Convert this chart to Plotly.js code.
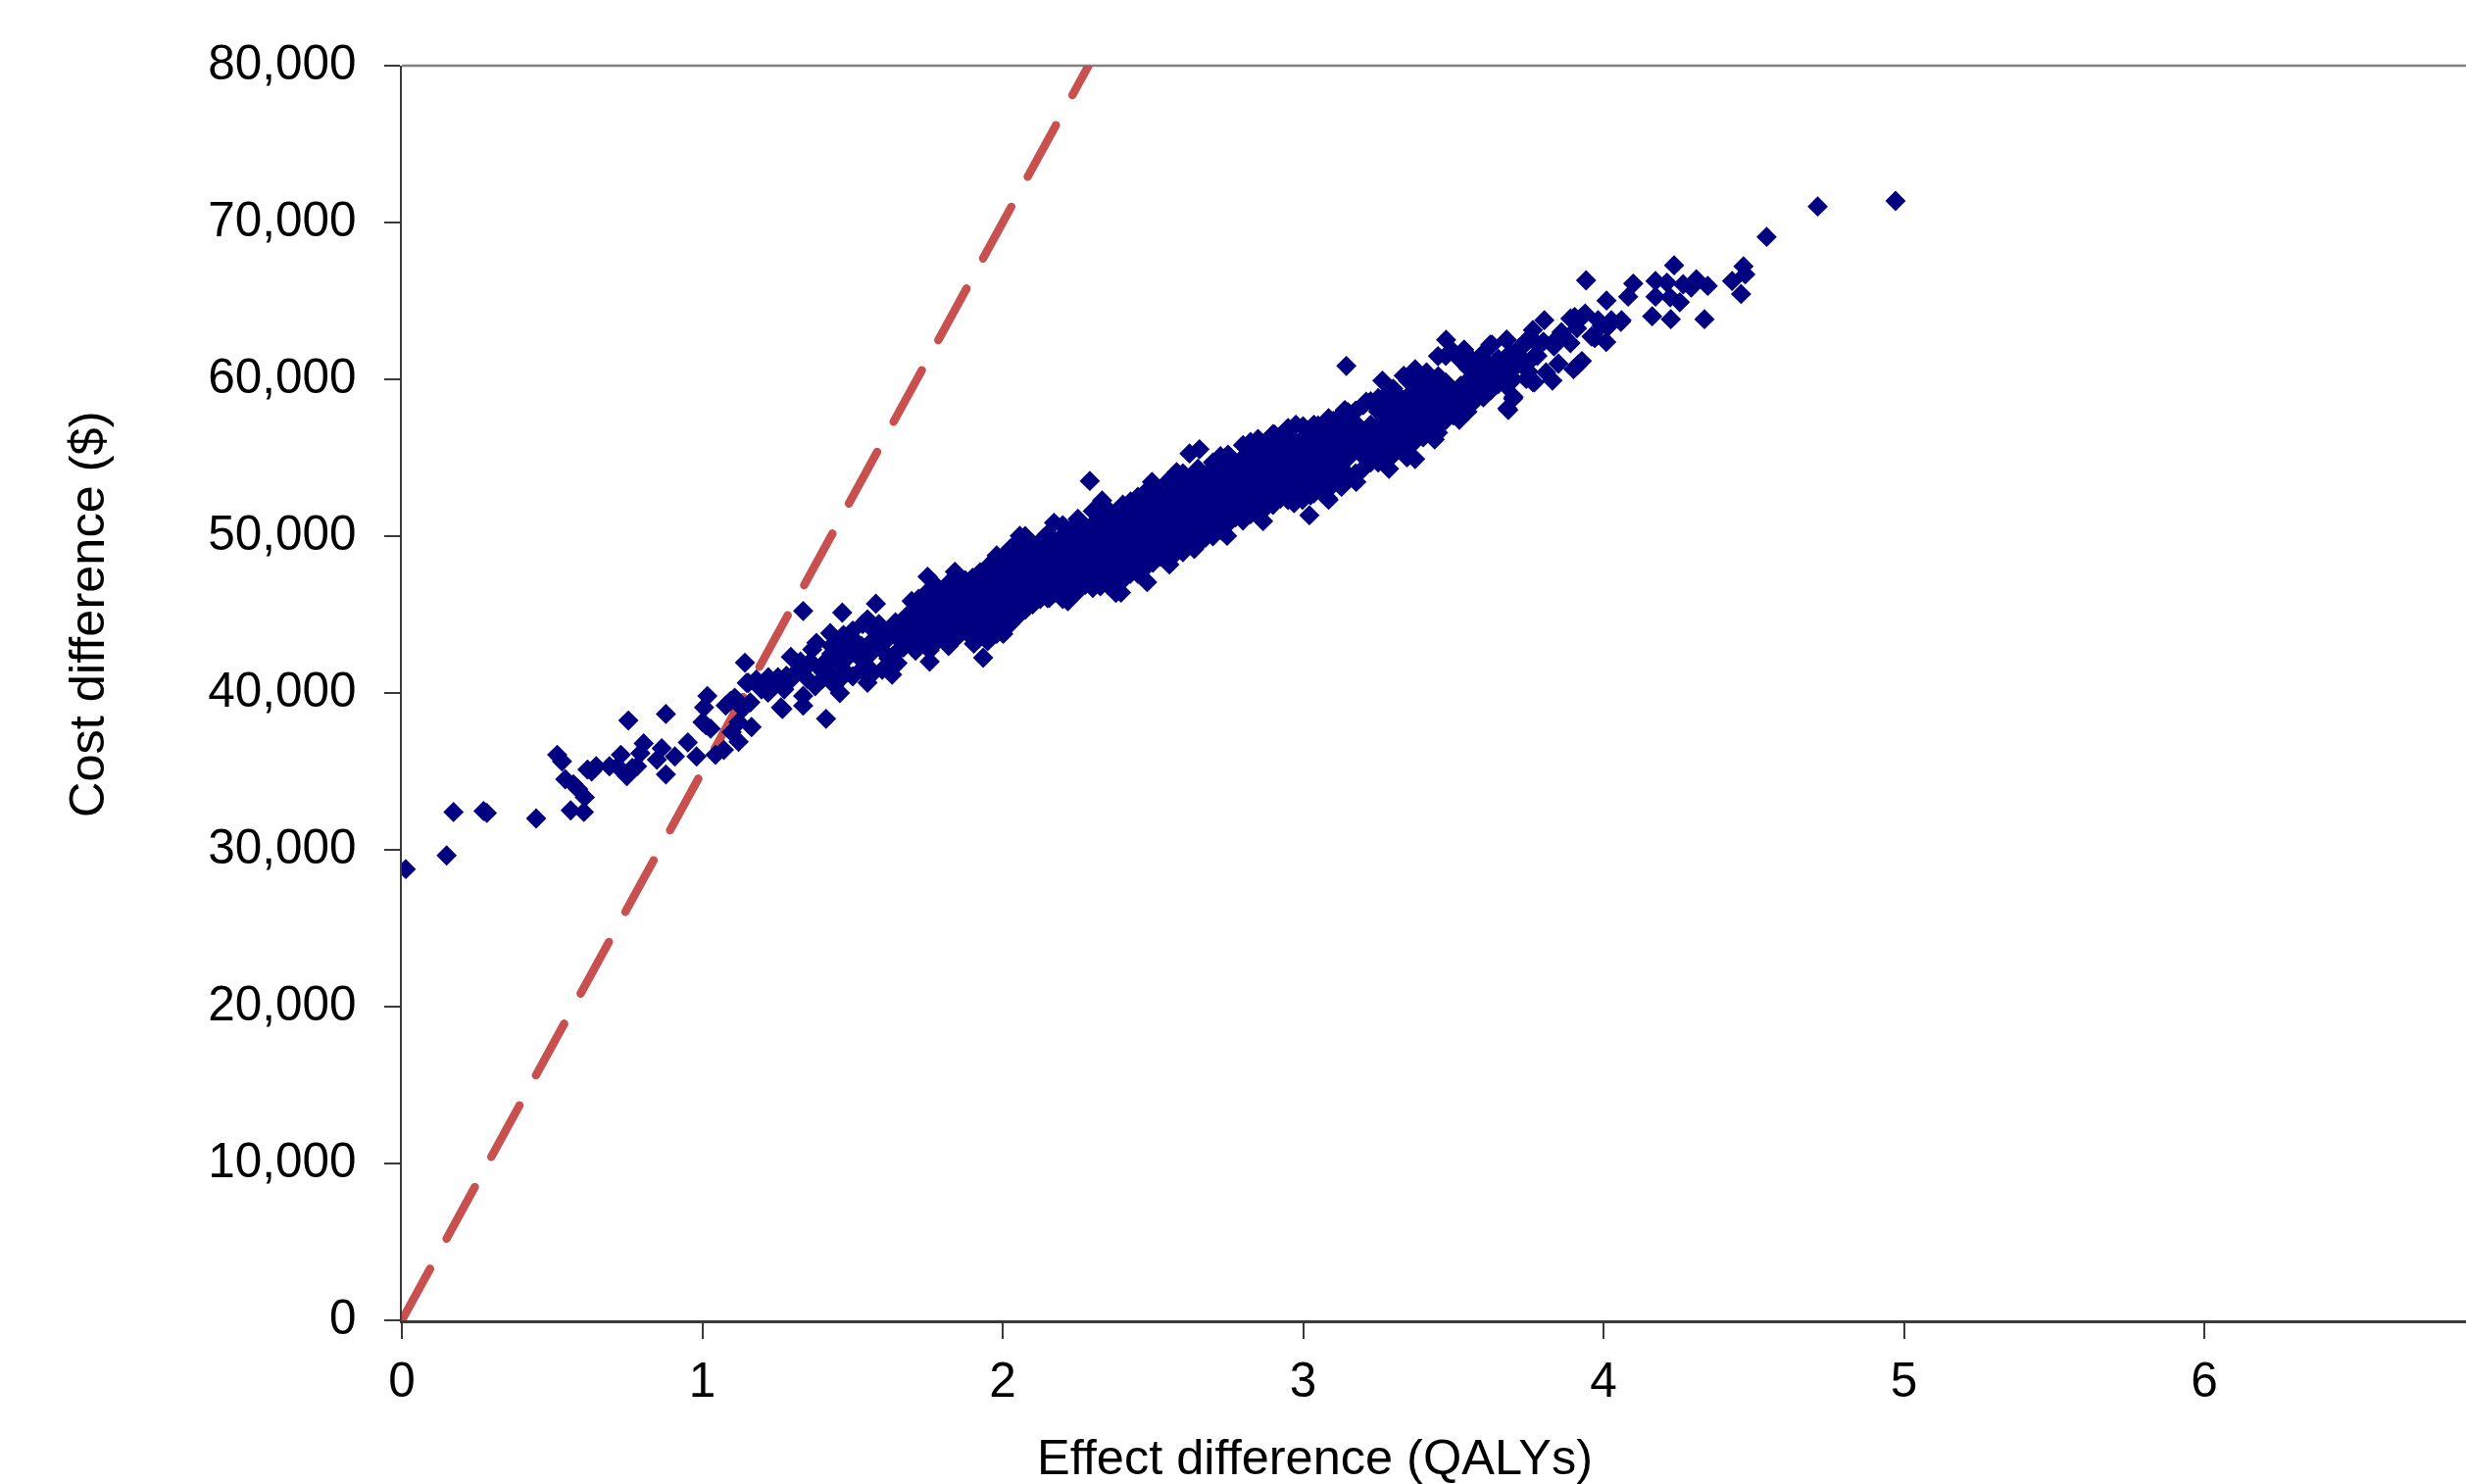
<!DOCTYPE html>
<html>
<head>
<meta charset="utf-8">
<script src="https://cdn.plot.ly/plotly-3.0.1.min.js"></script>
<style>html,body{margin:0;padding:0;background:#fff;overflow:hidden}</style>
</head>
<body>
<div id="chart" style="width:2516px;height:1514px"></div>
<script>
// Threshold line (willingness to pay about $35,000 per QALY)
const thresholdX = [0, 2.2857];
const thresholdY = [0, 80000];

// Isolated and edge points read one by one, [effect, cost]
const lowTail = [
[0.013,28770],[0.149,29640],[0.172,32410],[0.272,32475],[0.283,32350],[0.447,32000],[0.562,32516],[0.606,32412],
[0.517,36057],[0.533,35640],[0.544,34500],[0.571,34182],[0.587,33870],[0.609,33350],[0.618,35120],[0.632,35000],
[0.647,35328],[0.691,35328],[0.729,36057],[0.718,35328],[0.749,34700],[0.754,38245],[0.879,38660],[0.805,36786],
[0.794,36160],[0.865,36475],[0.849,35744],[0.909,35953],[0.879,34807],[0.952,36849],[0.981,35953],[0.783,35328],
[0.767,35224]
];
const nearCross = [
[1.044,36057],[1.072,36370],[1.121,36890],[1.017,39806],[1.006,39078],[1.001,38140],[1.028,37724],[1.012,37950],
[1.094,39494],[1.078,39200],[1.142,41931],[1.164,37828],[1.121,38140],[1.098,37500],[1.262,39078],[1.153,40640],
[1.197,40230],[1.241,40640],[1.219,40020],[1.252,41000],[1.108,39700],[1.135,39000],[1.160,39400],[1.336,45230],
[1.466,45126],[1.578,45690],[1.750,47417],[1.841,47730],[1.267,38980],[1.412,38356],[1.757,42000],[1.935,42250],
[1.336,39190],[1.366,42770],[1.295,42300],[1.426,43814],[1.534,44397],[1.458,40000],[1.550,40650],[1.632,41170],
[1.643,42520],[1.697,45860],[2.002,43770],[2.155,46063],[1.980,48770]
];
const lowerBand = [
[1.148,40648],[1.180,40856],[1.208,40439],[1.246,40856],[1.295,40856],[1.327,42002],[1.338,41481],[1.273,40231],
[1.336,39814],[1.376,40439],[1.425,41272],[1.452,43147],[1.480,42731],[1.458,41897],[1.458,40856],[1.501,41064],
[1.567,43355],[1.599,42731],[1.632,42314],[1.588,44397],[1.643,44501],[1.599,41481],[1.501,43980],[1.675,44397],
[1.708,45022],[1.752,44397],[1.730,43772],[1.757,42731],[1.784,43355],[1.817,43980],[1.850,44814],[1.882,44189],
[1.904,43147],[1.980,43772],[1.520,42300],[1.545,41800],[1.410,42000],[1.390,41600],[1.660,43300],[1.690,43900],
[1.620,43500],[1.560,44200],[1.700,44700],[1.730,45500],
[1.220,41000],[1.280,41100],[1.310,41300],[1.350,40900],[1.360,42000],[1.400,40900],[1.405,41300],[1.430,42500],
[1.440,40500],[1.470,42000],[1.480,41300],[1.500,42700],[1.510,43300],[1.530,41500],[1.530,43000],[1.560,42500],
[1.570,41300],[1.580,43900],[1.600,43200],[1.620,42200],[1.620,44000],[1.650,41900],[1.650,43800],[1.670,42900],
[1.680,44900],[1.700,43400],[1.710,42700],[1.720,44300],[1.740,43200],[1.760,43900],[1.780,44600],[1.800,43700],
[1.820,43000],[1.830,45100],[1.720,46000],[1.780,46800],[1.550,44700],[1.470,43700],[1.430,43000],[1.380,43200]
];
const midEdges = [
[2.290,53520],[2.481,47065],[3.021,51335],[2.747,50022],[3.082,52418],[2.867,50960],[2.622,55270],[2.655,55540],
[2.331,52272],[2.171,50855],[2.057,50022],[1.978,48564],[2.149,46064],[2.217,45856],[2.377,46380],[2.394,46400],
[2.555,48190],[2.600,48980],[2.638,49187],[2.715,54813],[2.752,54600],[2.497,53460],[2.579,54084],[2.426,52210],
[2.252,51064],[2.138,49918],[3.085,52315],[2.998,52315],[3.177,53460],[3.128,53148],[3.175,55700],[3.150,55000]
];
const upperEdges = [
[3.144,60855],[3.476,62522],[3.520,57418],[3.547,57940],[3.438,56169],[3.449,56600],[3.373,54918],[3.346,55022],
[3.286,54293],[3.085,57522],[3.036,57105],[2.976,57105],[2.905,56480],[3.139,58043],[3.210,58564],[3.264,59917],
[3.335,60230],[3.411,60439],[3.536,61896],[3.623,62209],[3.677,62522],[3.690,61688],[3.723,61063],[3.809,60438],
[3.680,58147],[3.701,58876],[3.770,59813],[3.830,59917],[3.732,61273],[3.765,59815],[3.699,58773],[3.683,58044],
[3.750,60500],[3.780,61500],[3.720,62000],[3.850,61000],[3.800,62400],[3.745,62500],[3.860,63000],
[3.558,61272],[3.601,61688],[3.623,60855],[3.688,60439],[3.743,60022],[3.731,62105],[3.776,62313],[3.765,61376],
[3.645,59814],[3.580,59189],[3.482,58147],[3.417,57106],[3.341,55439],[3.242,55022],[3.133,53356],[3.036,52731],
[2.970,52106],[3.373,60647],[3.449,61480],[3.498,61792]
];
const highTail = [
[4.972,71376],[4.713,71022],[4.543,69085],[4.235,67272],[3.942,66314],[4.466,67210],[4.472,66690],[4.428,66273],
[4.458,65440],[4.347,65960],[4.309,66377],[4.265,66064],[4.292,65856],[4.336,63835],[4.224,63835],[4.162,64023],
[4.173,66273],[4.211,66168],[4.173,65273],[4.222,65230],[4.254,64918],[4.099,66106],[4.082,65273],[4.010,65023],
[4.060,63773],[4.026,63773],[3.993,63400],[4.009,62377],[3.971,62627],[3.939,64189],[3.904,63980],[3.912,63252],
[3.890,62313],[3.830,62313],[3.928,61169],[3.900,60648],[3.914,60900],[3.803,63773],[3.765,63148],[3.678,62522],
[3.629,62209],[3.835,62105],[3.960,62730],[4.058,63667],[4.015,63355],[3.982,63771],[3.890,63876],[3.928,63980]
];
// Body of the cloud, estimated column by column: [effect, cost, cost, ...]
const bodyColumns = [
[1.75,44800,45650,46450],[1.80,44150,45000,45850,46600],
[1.85,43600,44400,45250,46000,46850,47500],[1.90,43500,44300,45100,45950,46700,47350],[1.95,43300,44100,44900,45750,46500,47300,48050],
[2.00,44000,44850,45600,46400,47250,48000,48600],[2.05,44900,45700,46450,47300,48100,48900,49650],[2.10,45650,46400,47200,48050,48800,49500],
[2.15,46200,47000,47750,48600,49400,50150],[2.20,46000,46800,47650,48400,49200,50050,50700],[2.25,46500,47300,48100,48950,49700,50500,51100],
[2.30,46700,47550,48300,49100,49900,50750,51600],[2.35,46900,47700,48500,49350,50100,50900,51700],[2.40,47200,48050,48800,49600,50450,51200,52000],
[2.45,47600,48400,49250,50000,50800,51650,52500],[2.50,48300,49100,49900,50750,51500,52300,53150],[2.55,48600,49400,50250,51000,51800,52650,53500],
[2.60,49200,50000,50800,51650,52400,53200,54000],[2.65,49500,50350,51100,51900,52750,53500,54300],[2.70,50000,50800,51600,52450,53200,54000,54700],
[2.75,50800,51650,52400,53200,54050,54800,55200],[2.80,51000,51800,52600,53450,54200,55000,55800],[2.85,51500,52300,53150,53900,54700,55550,56200],
[2.90,52000,52850,53600,54400,55250,56000,56500],[2.95,52300,53100,53900,54750,55500,56300,56900],[3.00,53000,53850,54600,55400,56250,57000],
[3.05,53000,53800,54650,55400,56200,57050],[3.10,53300,54100,54950,55700,56500,57350],[3.15,53900,55500,56300,57150,57900],
[3.20,54300,55100,55950,56700,58350],[3.25,54700,55550,56300,57100,57950,58800],[3.30,55200,56000,56800,57650,58400,59400],
[3.35,55700,56550,57300,58100,58950,59900],[3.40,56300,57100,57950,58700,59500,60200],[3.45,57000,57800,58650,59400,60200],
[3.50,57700,58550,59300],[3.55,58300,59100,59950,60700,61500],[3.60,58850,59600,60400,61250],
[3.65,59700,60550,61300],[3.70,60000,60800,61550]
];
// Second pass between those columns, where the cloud is solid
const bodyInfill = [
[1.775,45300,46100],[1.825,44700,45500,46300,47100],
[1.875,44000,44800,45600,46400,47200],[1.925,43900,44700,45500,46300,47000,47700],[1.975,43800,44500,45300,46100,46900,47700],
[2.025,44400,45200,46000,46800,47600,48400,49200],[2.075,45300,46100,46900,47700,48500,49300,50000],[2.125,46000,46800,47600,48400,49200],
[2.175,46400,47200,48000,48800,49600],[2.225,46400,47200,48000,48800,49600,50400],[2.275,46900,47700,48500,49300,50100],
[2.325,46800,47600,48400,49200,50000,50800,51500],[2.375,47300,48100,48900,49700,50500,51300],[2.425,47600,48400,49200,50000,50800,51600],
[2.475,48000,48800,49600,50400,51200,52000,52800],[2.525,48700,49500,50300,51100,51900,52700],[2.575,48900,49700,50500,51300,52100,52900,53700],
[2.625,49600,50400,51200,52000,52800,53600],[2.675,49900,50700,51500,52300,53100,53900],[2.725,50400,51200,52000,52800,53600,54400,55100],
[2.775,51200,52000,52800,53600,54400],[2.825,51400,52200,53000,53800,54600,55400,56000],[2.875,51800,52600,53400,54200,55000,55800],
[2.925,52400,53200,54000,54800,55600,56400],[2.975,52800,53500,54300,55100,55900],[3.025,52600,53400,54200,55000,55800,56600],
[3.075,53400,54200,55000,55800,56600],[3.125,53700,54500,55300,56100,56900,57700],[3.175,54000,56400,57200,58000],
[3.225,54700,55500,56300,57100,58600],[3.275,55000,55800,56600,57400,58200,59000],[3.325,55600,56400,57200,58000,58800],
[3.375,56100,56900,57700,58500,59300,60000],[3.425,56700,57500,58300,59100,59900],[3.475,57400,58200,59000,59800,61500],
[3.525,58000,58800,59600,61200],[3.575,58700,59500,60300,61100],[3.625,59300,60100],[3.675,59600,60400,61200]
];
const xTickVals = [0,1,2,3,4,5,6];
const yTickVals = [0,10000,20000,30000,40000,50000,60000,70000,80000];
const xAxisLabel = 'Effect difference (QALYs)';
const yAxisLabel = 'Cost difference ($)';

const expand = cols => cols.flatMap(c => c.slice(1).map(y => [c[0], y]));
const allPts = [].concat(lowTail, nearCross, lowerBand, expand(bodyColumns), expand(bodyInfill), midEdges, upperEdges, highTail);

const tickFont = {family: '"Liberation Sans", Arial, sans-serif', size: 49.5, color: '#000'};
const titleFont = {family: '"Liberation Sans", Arial, sans-serif', size: 50.5, color: '#000'};
const axisCommon = {
  showgrid: false, zeroline: false, showline: true, linecolor: '#3a3a3a', linewidth: 2.5,
  ticks: 'outside', ticklen: 16, tickwidth: 2, tickcolor: '#3a3a3a', tickfont: tickFont, fixedrange: true
};
const traces = [
  {type: 'scatter', mode: 'lines', x: thresholdX, y: thresholdY,
   line: {color: '#C8504E', width: 8.5, dash: '60px,35px'}, hoverinfo: 'skip'},
  {type: 'scatter', mode: 'markers', x: allPts.map(p => p[0]), y: allPts.map(p => p[1]),
   marker: {symbol: 'diamond', size: 16, color: '#000080', line: {width: 0}}, hoverinfo: 'skip'}
];
const layout = {
  width: 2516, height: 1514, showlegend: false, paper_bgcolor: '#fff', plot_bgcolor: '#fff',
  margin: {l: 410, r: 0, t: 67, b: 167, pad: 0},
  xaxis: Object.assign({}, axisCommon, {range: [0, 6.871], tickmode: 'array', tickvals: xTickVals, ticklabelstandoff: 0}),
  yaxis: Object.assign({}, axisCommon, {range: [0, 80000], tickmode: 'array', tickvals: yTickVals, tickformat: ',', ticklabelstandoff: 18}),
  shapes: [{type: 'line', xref: 'paper', yref: 'paper', x0: 0, x1: 1, y0: 1, y1: 1, line: {color: '#808080', width: 2.5}, layer: 'below'}],
  annotations: [
    {text: xAxisLabel, xref: 'paper', yref: 'paper', x: 0.4425, y: -0.109, showarrow: false, font: titleFont, xanchor: 'center', yanchor: 'middle'},
    {text: yAxisLabel, xref: 'paper', yref: 'paper', x: -0.1529, y: 0.5625, showarrow: false, font: titleFont, textangle: -90, xanchor: 'center', yanchor: 'middle'}
  ]
};
Plotly.newPlot('chart', traces, layout, {displayModeBar: false, staticPlot: true}).then(() => {
  document.querySelectorAll('.scatterlayer .js-line').forEach(p => { p.style.strokeLinecap = 'round'; });
  document.querySelectorAll('.ytick text').forEach(t => t.setAttribute('dy', '-3'));
});
</script>
</body>
</html>
